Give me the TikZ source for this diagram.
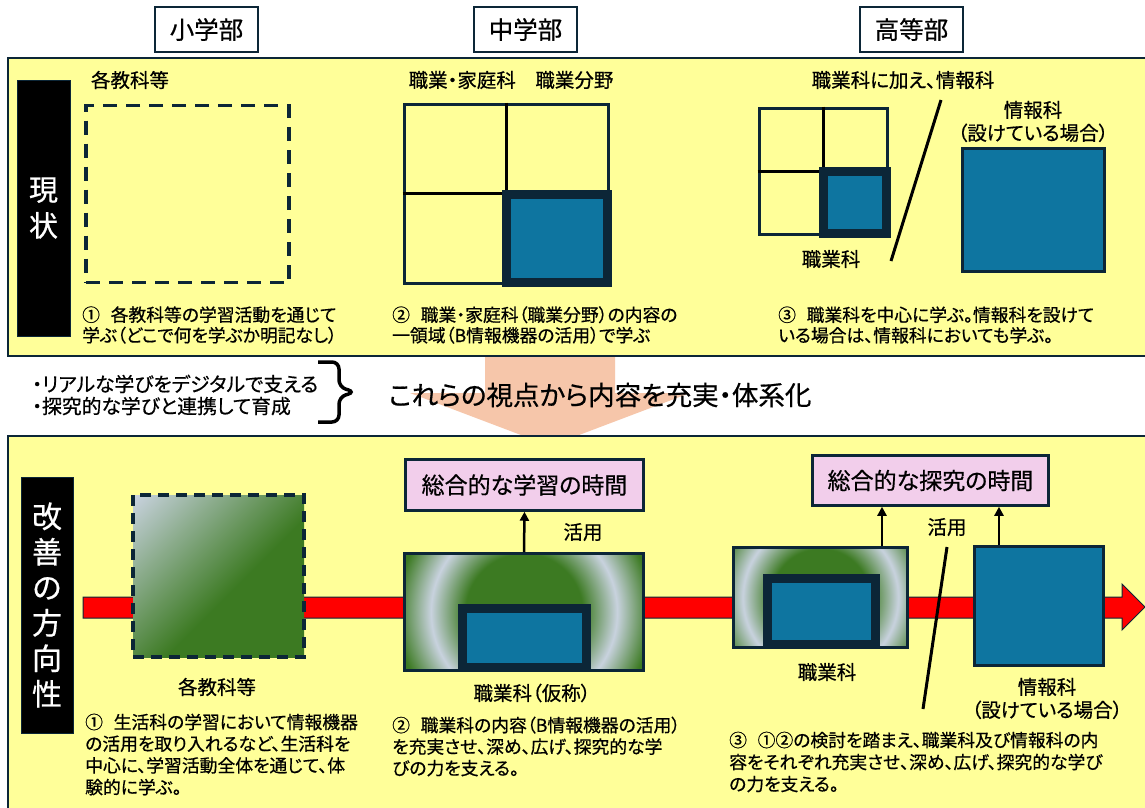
\documentclass[tikz,border=0pt]{standalone}
\usepackage{fontspec}
\setmainfont{Noto Sans CJK JP}[RawFeature=+palt, FakeBold=0.6]
\usetikzlibrary{arrows.meta}
\definecolor{navy}{RGB}{12,38,55}
\definecolor{ylw}{RGB}{255,255,153}
\definecolor{blu}{RGB}{14,117,160}
\definecolor{pnk}{RGB}{242,206,235}
\definecolor{grn}{RGB}{60,122,34}
\definecolor{lgt}{RGB}{200,210,222}
\definecolor{peach}{RGB}{246,198,170}
\definecolor{redc}{RGB}{255,0,0}
\pgfdeclareverticalshading{diagG}{100bp}{color(0bp)=(grn); color(44bp)=(grn); color(85bp)=(lgt); color(100bp)=(lgt)}
\pgfdeclareradialshading{ringG}{\pgfpoint{0bp}{0bp}}{color(0bp)=(grn); color(11bp)=(grn); color(17.5bp)=(lgt); color(24bp)=(grn); color(50bp)=(grn)}
\newcommand\fsz[2]{\fontsize{#1}{#2}\selectfont}
\newcommand\gap{\hspace{0.6em}}
\tikzset{
  hdr/.style={draw=navy, line width=2.2pt, fill=white, minimum width=103pt, minimum height=45pt, inner sep=0pt, font=\fsz{24.5}{28}},
  lbl/.style={inner sep=0pt, font=\fsz{19.5}{23}},
  para/.style={inner sep=0pt, anchor=west, align=left},
  blackbox/.style={fill=black, draw=navy, line width=1pt, inner sep=0pt, text=white, align=center},
  gridbox/.style={draw=navy, line width=3pt, inner sep=0pt},
  bluebox/.style={draw=navy, fill=blu, line width=3pt, inner sep=0pt},
  framebox/.style={draw=navy, fill=blu, line width=9pt, inner sep=0pt},
  pinkbox/.style={draw=navy, fill=pnk, line width=2.5pt, inner sep=0pt, font=\fsz{23}{26}},
  arr/.style={line width=2.5pt, -{Triangle[length=9pt,width=9pt]}},
  divider/.style={black, line width=3pt},
  slash/.style={black, line width=3pt},
  ringbox/.style={draw=navy, line width=3pt, inner sep=0pt},
}
\begin{document}
\begin{tikzpicture}[x=1pt,y=-1pt]
\useasboundingbox (0,0) rectangle (1145,807);
\fill[white] (0,0) rectangle (1145,807);

% peach arrow between panels
\fill[peach] (485,350) -- (615,350) -- (615,393) -- (690,393) -- (550,446) -- (410,393) -- (485,393) -- cycle;

% panels
\draw[navy, line width=2.5pt, fill=ylw] (8,58) rectangle (1160,356);
\draw[navy, line width=2.5pt, fill=ylw] (8,436) rectangle (1160,820);

% headers
\node[hdr] (h1) at (206.5,29.5) {小学部};
\node[hdr] (h2) at (525.5,29.5) {中学部};
\node[hdr] (h3) at (911.5,29.5) {高等部};

% ---------- top panel ----------
\node[blackbox, minimum width=53pt, minimum height=256pt, font=\fsz{29}{36}] (cur) at (43.5,208) {現\\状};

\node[lbl] (l1) at (130,80) {各教科等};
\node[draw=navy, line width=3.5pt, dash pattern=on 14pt off 9pt, minimum width=203pt, minimum height=177pt, inner sep=0pt] (ds) at (187.5,194) {};
\node[para, font=\fsz{17.8}{20.5}] (t1) at (82,325) {①\gap 各教科等の学習活動を通じて\\学ぶ（どこで何を学ぶか明記なし）};

\node[lbl] (l2) at (511,80) {職業・家庭科　職業分野};
\node[gridbox, minimum width=204pt, minimum height=179pt] (gm) at (506,193.5) {};
\draw[divider] (gm.north) -- (gm.center);
\draw[divider] (gm.west) -- (gm.center);
\node[framebox, minimum width=101pt, minimum height=88pt] (gmb) at (557,238.5) {};
\node[para, font=\fsz{17.8}{20.5}] (t2) at (392,325) {②\gap 職業・家庭科（職業分野）の内容の\\一領域（B情報機器の活用）で学ぶ};

\node[lbl] (l3) at (903,80) {職業科に加え、情報科};
\node[gridbox, minimum width=128pt, minimum height=126pt] (gr) at (823,171) {};
\draw[divider] (gr.north) -- (gr.center);
\draw[divider] (gr.west) -- (gr.center);
\node[framebox, minimum width=63pt, minimum height=62pt] (grb) at (855,202.5) {};
\node[lbl] (l4) at (831,259) {職業科};
\coordinate (s1a) at (941,100);
\coordinate (s1b) at (891,261);
\draw[slash] (s1a) -- (s1b);
\node[lbl, align=center] (l5) at (1033,121.5) {情報科\\（設けている場合）};
\node[bluebox, minimum width=142pt, minimum height=123pt] (it) at (1033.5,210) {};
\node[para, font=\fsz{17.8}{20.5}] (t3) at (778,325) {③\gap 職業科を中心に学ぶ。情報科を設けて\\いる場合は、情報科においても学ぶ。};

% ---------- middle ----------
\node[para, font=\fsz{19.8}{22}] (pts) at (32,395) {・リアルな学びをデジタルで支える\\・探究的な学びと連携して育成};
\coordinate (br1) at (318,362);
\coordinate (br2) at (318,422);
\draw[black, line width=3.5pt, rounded corners=7pt] (br1) -- (339,362) -- (339,387) -- (355,392) -- (339,397) -- (339,422) -- (br2);
\node[inner sep=0pt, font=\fsz{26.5}{30}] (big) at (600,395) {これらの視点から内容を充実・体系化};

% ---------- bottom panel ----------
\node[blackbox, minimum width=52pt, minimum height=256pt, font=\fsz{30}{35.5}] (imp) at (47,605) {改\\善\\の\\方\\向\\性};

% red arrow
\draw[navy, line width=1pt, fill=redc] (83,597) -- (1122,597) -- (1122,584) -- (1145,607) -- (1122,630) -- (1122,618) -- (83,618) -- cycle;

% box 1
\node[shade, shading=diagG, shading angle=45, draw=navy, line width=3.5pt, dash pattern=on 11pt off 7pt, minimum width=171pt, minimum height=162pt, inner sep=0pt] (g1) at (218.5,576) {};
\node[lbl] (l6) at (217,687) {各教科等};
\node[para, font=\fsz{17.8}{21.7}] (t4) at (85,754.5) {①\gap 生活科の学習において情報機器\\の活用を取り入れるなど、生活科を\\中心に、学習活動全体を通じて、体\\験的に学ぶ。};

% box 2
\node[ringbox, minimum width=239pt, minimum height=117pt, path picture={\shade[shading=ringG] (path picture bounding box.center) circle (133pt);}] (g2) at (524,612) {};
\node[framebox, minimum width=124.5pt, minimum height=58.5pt] (g2b) at (524.25,637.75) {};
\node[pinkbox, minimum width=238pt, minimum height=51pt] (p1) at (524.5,485) {総合的な学習の時間};
\draw[arr] (g2.north) -- (p1.south);
\node[lbl] (l7) at (583,532) {活用};
\node[lbl] (l8) at (532,693) {職業科（仮称）};
\node[para, font=\fsz{17.8}{21.5}] (t5) at (392,746.5) {②\gap 職業科の内容（B情報機器の活用）\\を充実させ、深め、広げ、探究的な学\\びの力を支える。};

% box 3
\node[ringbox, minimum width=174pt, minimum height=100pt, path picture={\shade[shading=ringG] (path picture bounding box.center) circle (111pt);}] (g3) at (820.5,597.5) {};
\node[framebox, minimum width=108pt, minimum height=66pt] (g3b) at (821.5,611.5) {};
\node[bluebox, minimum width=129pt, minimum height=119pt] (b4) at (1039,606) {};
\node[pinkbox, minimum width=236pt, minimum height=50pt] (p2) at (930.5,480.5) {総合的な探究の時間};
\draw[arr] ([xshift=61.5pt]g3.north) -- ([xshift=61.5pt]g3.north |- p2.south);
\draw[arr] ([xshift=-40pt]b4.north) -- ([xshift=-40pt]b4.north |- p2.south);
\node[lbl] (l9) at (947,527) {活用};
\coordinate (s2a) at (947,547);
\coordinate (s2b) at (923,709);
\draw[slash] (s2a) -- (s2b);
\node[lbl] (l10) at (827,672) {職業科};
\node[lbl, align=center] (l11) at (1047,698.5) {情報科\\（設けている場合）};
\node[para, font=\fsz{17.8}{22}] (t6) at (729,762) {③\gap ①②の検討を踏まえ、職業科及び情報科の内\\容をそれぞれ充実させ、深め、広げ、探究的な学び\\の力を支える。};
\end{tikzpicture}
\end{document}
